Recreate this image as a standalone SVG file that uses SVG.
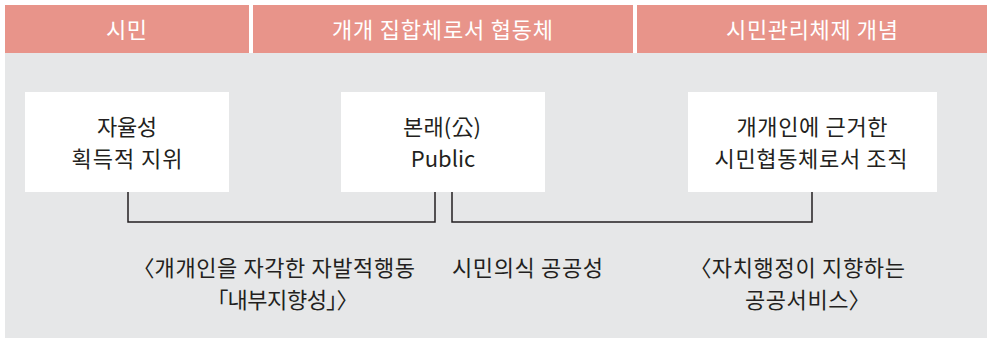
<svg xmlns="http://www.w3.org/2000/svg" width="987" height="339" viewBox="0 0 987 339">
<style>
.hdr{fill:#E8948A}
text{font-family:"Noto Sans CJK KR","Noto Sans",sans-serif;font-size:22px;font-feature-settings:"palt";text-anchor:middle}
.hdrt{fill:#FFFFFF}
.box{fill:#FFFFFF}
.bt{fill:#231F20}
.lt{fill:#231F20}
.conn{fill:none;stroke:#231F20;stroke-width:1.5}
</style>
<rect x="0" y="0" width="987" height="339" fill="#FFFFFF"/>
<rect x="5" y="53" width="982" height="285" fill="#E6E7E8"/>
<g id="header-1"><rect class="hdr" x="5" y="5" width="244" height="48"/><text class="hdrt" x="126.5" y="38" textLength="41" lengthAdjust="spacing">시민</text></g>
<g id="header-2"><rect class="hdr" x="253" y="5" width="380" height="48"/><text class="hdrt" x="442.5" y="38" textLength="221" lengthAdjust="spacing">개개 집합체로서 협동체</text></g>
<g id="header-3"><rect class="hdr" x="637" y="5" width="350" height="48"/><text class="hdrt" x="812" y="38" textLength="172" lengthAdjust="spacing">시민관리체제 개념</text></g>
<g id="node-1"><rect class="box" x="25" y="92" width="204" height="100"/><text class="bt" x="127" y="135" textLength="60" lengthAdjust="spacing">자율성</text><text class="bt" x="127" y="167" textLength="111" lengthAdjust="spacing">획득적 지위</text></g>
<g id="node-2"><rect class="box" x="341" y="92" width="204" height="100"/><text class="bt" x="442" y="135" textLength="78" lengthAdjust="spacing">본래(公)</text><text class="bt" x="443" y="167">Public</text></g>
<g id="node-3"><rect class="box" x="688" y="92" width="249" height="100"/><text class="bt" x="812" y="135" textLength="151" lengthAdjust="spacing">개개인에 근거한</text><text class="bt" x="811" y="167" textLength="193" lengthAdjust="spacing">시민협동체로서 조직</text></g>
<g id="connectors">
<polyline class="conn" points="128,192 128,222 435,222 435,192"/>
<polyline class="conn" points="452,192 452,222 812,222 812,192"/>
</g>
<g id="labels">
<text class="lt" x="279" y="276" textLength="272" lengthAdjust="spacing">〈개개인을 자각한 자발적행동</text>
<text class="lt" x="282.5" y="308" textLength="131" lengthAdjust="spacing">「내부지향성」〉</text>
<text class="lt" x="527.5" y="276" textLength="151" lengthAdjust="spacing">시민의식 공공성</text>
<text class="lt" x="802.5" y="276" textLength="205" lengthAdjust="spacing">〈자치행정이 지향하는</text>
<text class="lt" x="802.5" y="308" textLength="115" lengthAdjust="spacing">공공서비스〉</text>
</g>
</svg>
